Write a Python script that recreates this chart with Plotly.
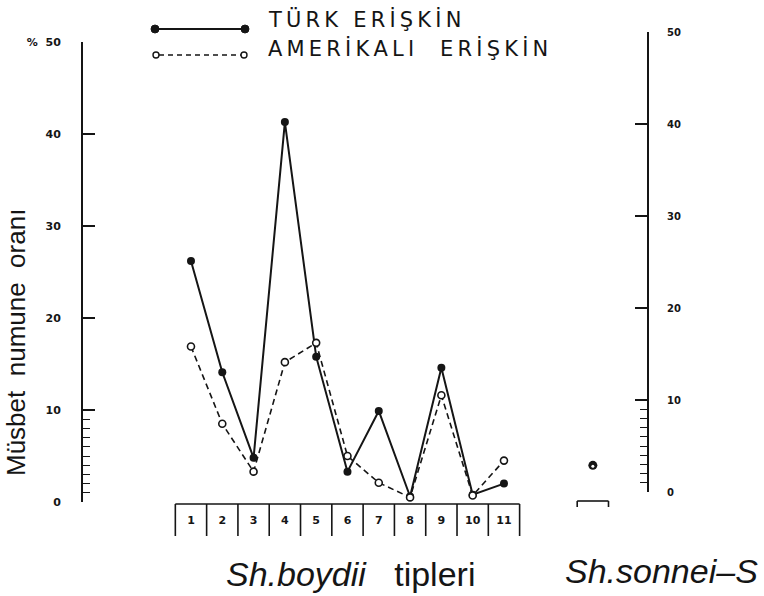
import plotly.graph_objects as go

# ---- data ----
boydii_types = ["1", "2", "3", "4", "5", "6", "7", "8", "9", "10", "11"]
turk_values = [26.2, 14.1, 4.8, 41.3, 15.8, 3.3, 9.9, 0.6, 14.6, 0.8, 2.0]
amer_values = [16.9, 8.5, 3.3, 15.2, 17.3, 5.0, 2.1, 0.5, 11.6, 0.7, 4.5]
sonnei_turk = [2.9]
sonnei_amer = [2.8]
y_tick_vals = [0, 10, 20, 30, 40, 50]
y_left_text = ["0", "10", "20", "30", "40", "%  50"]
y_right_text = ["0", "10", "20", "30", "40", "50"]
series_names = ["TÜRK ERİŞKİN", "AMERİKALI  ERİŞKİN"]

# ---- layout geometry (pixels) ----
W, H = 764, 596
L, R, T, B = 83, 647, 32, 502
PW, PH = R - L, B - T
x_pos = list(range(1, len(boydii_types) + 1))
sonnei_pos = 13.84
x_range = [-2.45, 15.57]

def px(x):
    return (x - L) / PW

def py(y):
    return (B - y) / PH

INK = "#151515"
fig = go.Figure()

fig.add_trace(go.Scatter(
    x=x_pos, y=turk_values, mode="lines+markers", name=series_names[0],
    line=dict(color=INK, width=2),
    marker=dict(symbol="circle", size=8, color=INK),
    xaxis="x", yaxis="y", showlegend=False, cliponaxis=False))
fig.add_trace(go.Scatter(
    x=x_pos, y=amer_values, mode="lines+markers", name=series_names[1],
    line=dict(color=INK, width=1.6, dash="6px,4px"),
    marker=dict(symbol="circle", size=7, color="white",
                line=dict(color=INK, width=1.6)),
    xaxis="x", yaxis="y", showlegend=False, cliponaxis=False))
fig.add_trace(go.Scatter(
    x=[sonnei_pos], y=sonnei_turk, mode="markers",
    marker=dict(symbol="circle", size=9, color=INK),
    xaxis="x", yaxis="y2", showlegend=False))
fig.add_trace(go.Scatter(
    x=[sonnei_pos], y=sonnei_amer, mode="markers",
    marker=dict(symbol="circle", size=3, color="white", line=dict(width=0)),
    xaxis="x", yaxis="y2", showlegend=False))

shapes = []
# category box row under Sh. boydii
shapes.append(dict(type="line", xref="x", yref="paper", x0=0.5, x1=11.5,
                   y0=py(504), y1=py(504), line=dict(color=INK, width=1.6)))
for k in range(len(boydii_types) + 1):
    shapes.append(dict(type="line", xref="x", yref="paper", x0=k + 0.5, x1=k + 0.5,
                       y0=py(504), y1=py(536), line=dict(color=INK, width=1.6)))
# sonnei bracket
shapes.append(dict(type="line", xref="x", yref="paper", x0=sonnei_pos - 0.5, x1=sonnei_pos + 0.5,
                   y0=py(501), y1=py(501), line=dict(color=INK, width=1.6)))
for xx in (sonnei_pos - 0.5, sonnei_pos + 0.5):
    shapes.append(dict(type="line", xref="x", yref="paper", x0=xx, x1=xx,
                       y0=py(501), y1=py(507), line=dict(color=INK, width=1.6)))
# legend samples
shapes.append(dict(type="line", xref="paper", yref="paper", x0=px(155), x1=px(245),
                   y0=py(29), y1=py(29), line=dict(color=INK, width=2)))
for cx in (155, 245):
    shapes.append(dict(type="circle", xref="paper", yref="paper",
                       x0=px(cx - 4), x1=px(cx + 4), y0=py(33), y1=py(25),
                       fillcolor=INK, line=dict(color=INK, width=1)))
shapes.append(dict(type="line", xref="paper", yref="paper", x0=px(159), x1=px(241),
                   y0=py(55), y1=py(55), line=dict(color=INK, width=1.5, dash="5px,4px")))
for cx in (156, 244):
    shapes.append(dict(type="circle", xref="paper", yref="paper",
                       x0=px(cx - 3), x1=px(cx + 3), y0=py(58), y1=py(52),
                       fillcolor="white", line=dict(color=INK, width=1.4)))

def spaced(s):
    return "\u2009".join(list(s))

annotations = [
    dict(text=spaced(series_names[0]), xref="paper", yref="paper", x=px(266), y=py(20),
         xanchor="left", yanchor="middle", showarrow=False,
         font=dict(family="DejaVu Sans", size=21, color=INK)),
    dict(text=spaced(series_names[1]), xref="paper", yref="paper", x=px(266), y=py(48),
         xanchor="left", yanchor="middle", showarrow=False,
         font=dict(family="DejaVu Sans", size=21, color=INK)),
    dict(text="Müsbet  numune  oranı", xref="paper", yref="paper", x=px(16), y=py(343),
         textangle=-90, xanchor="center", yanchor="middle", showarrow=False,
         font=dict(family="Liberation Sans", size=26, color=INK)),
    dict(text="<i>Sh.boydii</i>   tipleri", xref="paper", yref="paper", x=px(350), y=py(574),
         xanchor="center", yanchor="middle", showarrow=False,
         font=dict(family="Liberation Sans", size=34, color=INK)),
    dict(text="<i>Sh.sonnei–S</i>", xref="paper", yref="paper", x=px(760), y=py(571),
         xanchor="right", yanchor="middle", showarrow=False,
         font=dict(family="Liberation Sans", size=34, color=INK)),
]

tick_font = dict(family="DejaVu Sans", size=11, color=INK, weight="bold")

fig.update_layout(
    width=W, height=H,
    margin=dict(l=L, r=W - R, t=T, b=H - B, pad=0),
    paper_bgcolor="white", plot_bgcolor="rgba(0,0,0,0)",
    shapes=shapes, annotations=annotations,
    xaxis=dict(range=x_range, domain=[0, 1], anchor="y",
               tickmode="array", tickvals=x_pos, ticktext=boydii_types,
               showline=False, showgrid=False, zeroline=False, ticks="",
               ticklabelstandoff=10, tickfont=tick_font),
    yaxis=dict(range=[0, 50], domain=[0, (B - 42) / PH], anchor="x", side="left",
               tickmode="array", tickvals=y_tick_vals, ticktext=y_left_text,
               showline=True, linecolor=INK, linewidth=2,
               ticks="inside", ticklen=12, tickwidth=1.6, tickcolor=INK,
               minor=dict(tickmode="array", tickvals=list(range(1, 10)),
                          ticks="inside", ticklen=7, tickwidth=1.2, tickcolor=INK),
               ticklabelstandoff=18,
               showgrid=False, zeroline=False, tickfont=tick_font),
    yaxis2=dict(range=[0, 50], domain=[(B - 492) / PH, 1], anchor="x", side="right",
                tickmode="array", tickvals=y_tick_vals, ticktext=y_right_text,
                showline=True, linecolor=INK, linewidth=2,
                ticks="inside", ticklen=12, tickwidth=1.6, tickcolor=INK,
                minor=dict(tickmode="array", tickvals=list(range(1, 10)),
                           ticks="inside", ticklen=7, tickwidth=1.2, tickcolor=INK),
                ticklabelstandoff=16,
                showgrid=False, zeroline=False,
                tickfont=dict(family="DejaVu Sans", size=10, color=INK, weight="bold")),
)

fig.write_html("out.html")
